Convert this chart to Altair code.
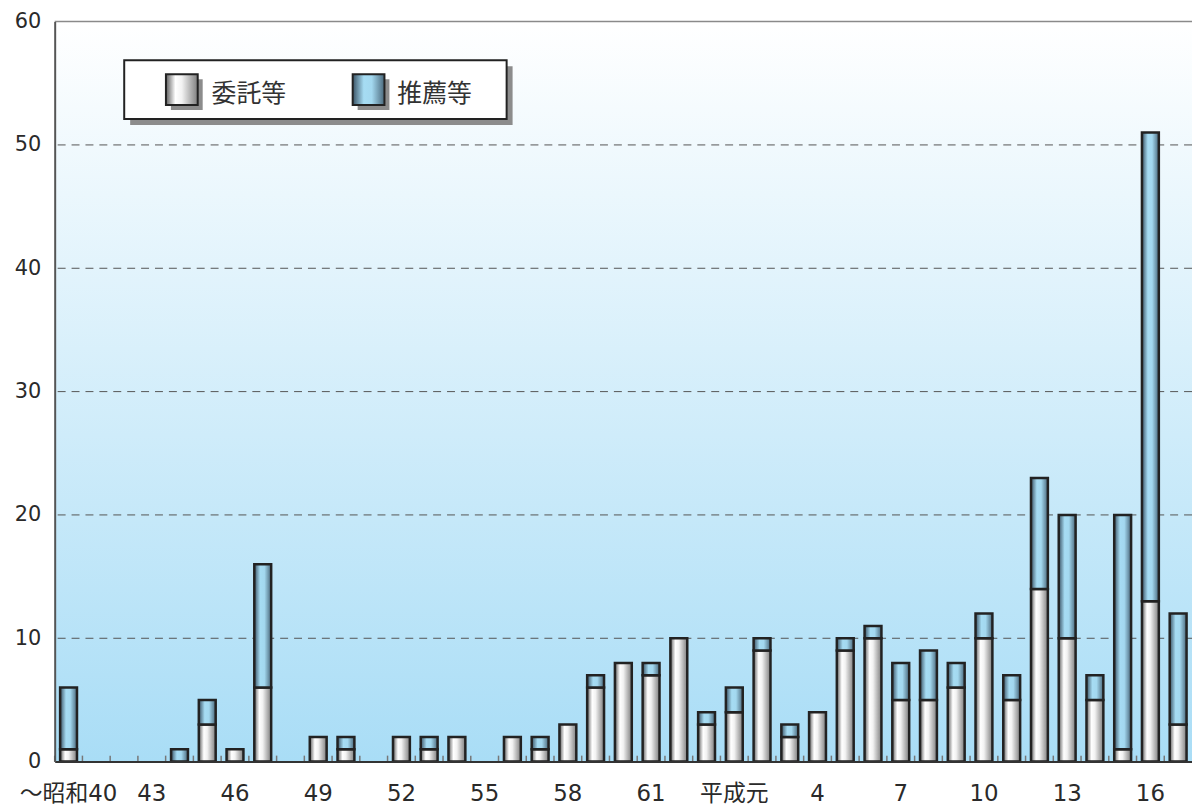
import altair as alt
import pandas as pd

# ---- data ----
categories = ["〜昭和40", "41", "42", "43", "44", "45", "46", "47", "48", "49",
              "50", "51", "52", "53", "54", "55", "56", "57", "58", "59",
              "60", "61", "62", "63", "平成元", "2", "3", "4", "5", "6",
              "7", "8", "9", "10", "11", "12", "13", "14", "15", "16", "17"]
itaku = [1, 0, 0, 0, 0, 3, 1, 6, 0, 2,
         1, 0, 2, 1, 2, 0, 2, 1, 3, 6,
         8, 7, 10, 3, 4, 9, 2, 4, 9, 10,
         5, 5, 6, 10, 5, 14, 10, 5, 1, 13, 3]
suisen = [5, 0, 0, 0, 1, 2, 0, 10, 0, 0,
          1, 0, 0, 1, 0, 0, 0, 1, 0, 1,
          0, 1, 0, 1, 2, 1, 1, 0, 1, 1,
          3, 4, 2, 2, 2, 9, 10, 2, 19, 38, 9]
x_label_values = ["〜昭和40", "43", "46", "49", "52", "55", "58", "61",
                  "平成元", "4", "7", "10", "13", "16"]
y_ticks = [0, 10, 20, 30, 40, 50, 60]
grid_values = [10, 20, 30, 40, 50]
legend_labels = ["委託等", "推薦等"]

df = pd.DataFrame({"cat": categories, "itaku": itaku, "suisen": suisen})
df["total"] = df["itaku"] + df["suisen"]
df["zero"] = 0
one = pd.DataFrame({"d": [0]})

TOP = 11
W, H = 1145, 745
NUM_FONT = "DejaVu Sans, Noto Sans CJK JP"
CJK_FONT = "Noto Sans CJK JP"

def lin(stops, vertical=False):
    return alt.LinearGradient(
        gradient="linear",
        stops=[alt.GradientStop(offset=o, color=c) for o, c in stops],
        x1=0, y1=0, x2=0 if vertical else 1, y2=1 if vertical else 0)

bg_grad = lin([(0, "#ffffff"), (1, "#a9ddf6")], vertical=True)
white_grad = lin([(0, "#5e5e5e"), (0.3, "#ffffff"), (0.5, "#f2f2f2"), (1, "#7e7e7e")])
blue_grad = lin([(0, "#3a5264"), (0.35, "#a6dcf3"), (0.6, "#a3d8ef"), (1, "#4a687b")])

xscale = alt.Scale(domain=categories, paddingInner=0, paddingOuter=0)
yscale = alt.Scale(domain=[0, 60], nice=False)

xaxis = alt.Axis(values=x_label_values, title=None, ticks=False, grid=False,
                 domainColor="#333333", domainWidth=2, labelAngle=0,
                 labelFont=NUM_FONT, labelFontSize=23, labelColor="#2a2a2a",
                 labelPadding=21, labelOverlap=False, zindex=1)
yaxis = alt.Axis(values=y_ticks, title=None, ticks=False, grid=False,
                 domainColor="#555555", domainWidth=2,
                 labelFont=NUM_FONT, labelFontSize=21, labelColor="#2a2a2a",
                 labelPadding=14, zindex=1)

X = alt.X("cat:N", sort=categories, scale=xscale, axis=xaxis)

bg = alt.Chart(one).mark_rect(fill=bg_grad).encode(
    x=alt.value(0), x2=alt.value(W), y=alt.value(0), y2=alt.value(H))

grid = alt.Chart(pd.DataFrame({"v": grid_values})).mark_rule(
    color="#555555", strokeDash=[8, 6], strokeWidth=1).encode(
    y=alt.Y("v:Q", scale=yscale, axis=yaxis))

top_line = alt.Chart(one).mark_rule(color="#8a8a8a", strokeWidth=1.5).encode(
    x=alt.value(0), x2=alt.value(W), y=alt.value(0))

ticks = alt.Chart(df).mark_rule(color="#777777", strokeWidth=1.5).encode(
    x=alt.X("cat:N", sort=categories, scale=xscale, axis=xaxis, bandPosition=0),
    y=alt.value(H - 6), y2=alt.value(H))

white_bars = alt.Chart(df).transform_filter("datum.itaku > 0").mark_bar(
    width=17, fill=white_grad, stroke="#222222", strokeWidth=2.5).encode(
    x=X, y=alt.Y("itaku:Q", scale=yscale, axis=yaxis), y2="zero:Q")

blue_bars = alt.Chart(df).transform_filter("datum.suisen > 0").mark_bar(
    width=17, fill=blue_grad, stroke="#222222", strokeWidth=2.5).encode(
    x=X, y=alt.Y("total:Q", scale=yscale, axis=yaxis), y2="itaku:Q")

# ---- legend (hand drawn box with shadow) ----
def rect(x1, y1, x2, y2, **kw):
    return alt.Chart(one).mark_rect(**kw).encode(
        x=alt.value(x1), x2=alt.value(x2), y=alt.value(y1), y2=alt.value(y2))

d = 16 - (8 + TOP)  # keep legend at the reference's page position
lg_shadow = rect(76, 48 + d, 461, 107 + d, fill="#8c8c8c")
lg_box = rect(70, 42 + d, 455, 101 + d, fill="#ffffff", stroke="#222222", strokeWidth=2)
s1_shadow = rect(117, 61 + d, 149, 92 + d, fill="#8c8c8c")
s1 = rect(112, 56 + d, 144, 87 + d, fill=white_grad, stroke="#222222", strokeWidth=2)
s2_shadow = rect(305, 61 + d, 337, 92 + d, fill="#8c8c8c")
s2 = rect(300, 56 + d, 332, 87 + d, fill=blue_grad, stroke="#222222", strokeWidth=2)
t1 = alt.Chart(one).mark_text(text=legend_labels[0], align="left", baseline="middle",
                              font=CJK_FONT, fontSize=25, color="#333333").encode(
    x=alt.value(158), y=alt.value(76 + d))
t2 = alt.Chart(one).mark_text(text=legend_labels[1], align="left", baseline="middle",
                              font=CJK_FONT, fontSize=25, color="#333333").encode(
    x=alt.value(345), y=alt.value(76 + d))

chart = alt.layer(
    bg, grid, top_line, ticks, white_bars, blue_bars,
    lg_shadow, lg_box, s1_shadow, s1, s2_shadow, s2, t1, t2
).properties(
    width=W, height=H,
    autosize=alt.AutoSizeParams(type="none"),
    padding={"left": 47, "top": TOP, "right": 0, "bottom": 41},
    background="#ffffff",
).configure_view(stroke=None)

chart.save("out.html", embed_options={"renderer": "svg", "actions": False})
